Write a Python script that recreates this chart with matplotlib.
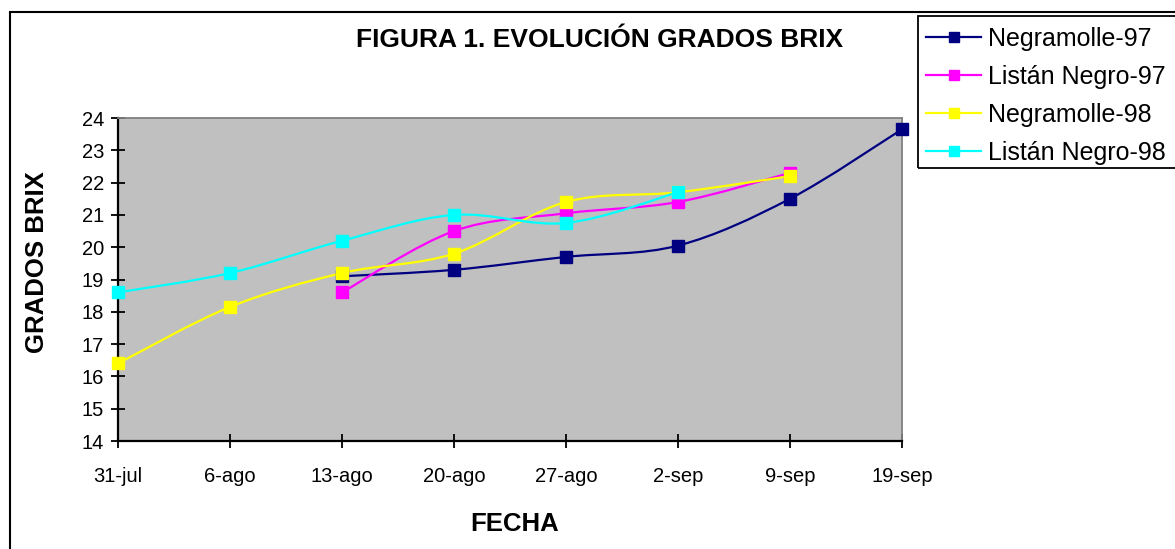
import numpy as np
import matplotlib.pyplot as plt
from matplotlib.path import Path
from matplotlib.patches import PathPatch, Rectangle
from matplotlib.lines import Line2D

plt.rcParams['font.family'] = ['Liberation Sans', 'DejaVu Sans']

fechas = ['31-jul', '6-ago', '13-ago', '20-ago', '27-ago', '2-sep', '9-sep', '19-sep']
nan = np.nan
negramolle_97 = [nan, nan, 19.1, 19.3, 19.7, 20.05, 21.5, 23.65]
listan_97 = [nan, nan, 18.6, 20.5, 21.05, 21.4, 22.3, nan]
negramolle_98 = [16.4, 18.15, 19.2, 19.8, 21.4, 21.7, 22.2, nan]
listan_98 = [18.6, 19.2, 20.2, 21.0, 20.75, 21.7, nan, nan]

series = ['Negramolle-97', 'Listán Negro-97', 'Negramolle-98', 'Listán Negro-98']
colores = ['#000080', '#FF00FF', '#FFFF00', '#00FFFF']
valores = [negramolle_97, listan_97, negramolle_98, listan_98]


def curva_suave(xs, ys):
    """Curva suavizada tipo Excel (Bezier con puntos de control Catmull-Rom)."""
    p = np.column_stack([xs, ys])
    n = len(p)
    verts = [p[0]]
    codes = [Path.MOVETO]
    for i in range(n - 1):
        p0 = p[i - 1] if i > 0 else p[i]
        p3 = p[i + 2] if i + 2 < n else p[i + 1]
        c1 = p[i] + (p[i + 1] - p0) / 6
        c2 = p[i + 1] - (p3 - p[i]) / 6
        verts += [c1, c2, p[i + 1]]
        codes += [Path.CURVE4] * 3
    return Path(verts, codes)


fig = plt.figure(figsize=(11.75, 5.49), dpi=100)
ax = fig.add_axes([118 / 1175, 108 / 549, 784 / 1175, 323 / 549])
ax.set_facecolor('#C0C0C0')

x = np.arange(len(fechas))
for nombre, color, vals in zip(series, colores, valores):
    vals = np.array(vals, dtype=float)
    ok = ~np.isnan(vals)
    ax.add_patch(PathPatch(curva_suave(x[ok], vals[ok]), facecolor='none',
                           edgecolor=color, lw=1.6, zorder=2))
    ax.plot(x[ok], vals[ok], linestyle='none', marker='s', ms=8.5,
            mfc=color, mec=color, zorder=3, clip_on=False)

ax.set_xlim(0, len(fechas) - 1)
ax.set_ylim(14, 24)
ax.set_xticks(x)
ax.set_xticklabels(fechas)
ax.set_yticks(range(14, 25))
ax.tick_params(axis='both', direction='inout', length=10, width=1.3,
               labelsize=14.5, colors='black')
ax.tick_params(axis='y', pad=5)
ax.tick_params(axis='x', pad=14)
for lado in ['left', 'bottom']:
    ax.spines[lado].set_linewidth(1.6)
    ax.spines[lado].set_color('black')
for lado in ['top', 'right']:
    ax.spines[lado].set_linewidth(1.3)
    ax.spines[lado].set_color('#808080')

fig.text(600 / 1175, 1 - 40 / 549, 'FIGURA 1. EVOLUCIÓN GRADOS BRIX',
         ha='center', va='center', fontsize=19, fontweight='bold')
fig.text(37 / 1175, 1 - 262 / 549, 'GRADOS BRIX', rotation=90,
         ha='center', va='center', fontsize=18.5, fontweight='bold')
fig.text(515 / 1175, 1 - 524 / 549, 'FECHA',
         ha='center', va='center', fontsize=18.5, fontweight='bold')

# marco exterior del gráfico
fig.add_artist(Rectangle((10 / 1175, -0.1), 1.2, 1.1 - 12 / 549,
                         transform=fig.transFigure, fill=False,
                         edgecolor='black', lw=1.5))
# marco de la leyenda
fig.add_artist(Rectangle((918 / 1175, 1 - 168 / 549), 0.3, 152 / 549,
                         transform=fig.transFigure, fill=False,
                         edgecolor='black', lw=1.3))

handles = [Line2D([], [], color=c, lw=1.6, marker='s', ms=7, mfc=c, mec=c)
           for c in colores]
fig.legend(handles, series, loc='upper left',
           bbox_to_anchor=(926 / 1175, 1 - 27 / 549), frameon=False,
           fontsize=18, handlelength=2.2, handletextpad=0.3,
           labelspacing=0.56, borderpad=0, borderaxespad=0)

fig.savefig('out.png', dpi=100)
